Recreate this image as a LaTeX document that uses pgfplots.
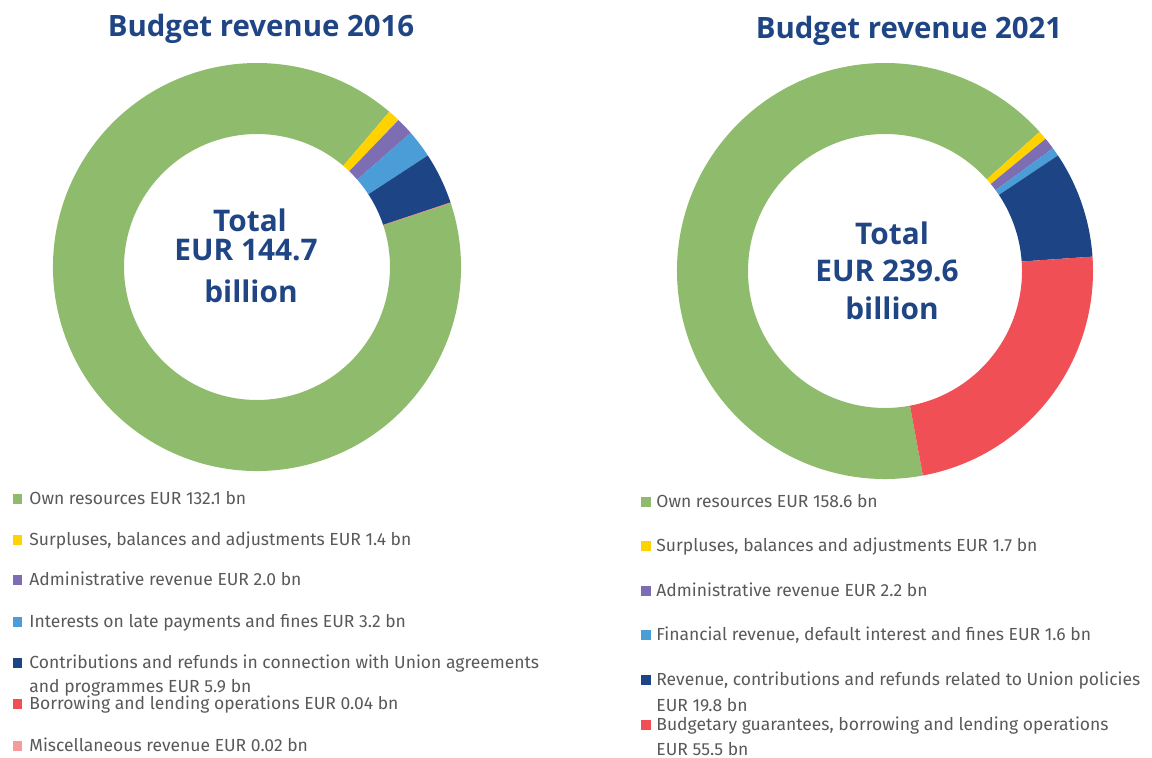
\documentclass[border=0pt]{standalone}
\usepackage{pgfplots}
\pgfplotsset{compat=1.18}
\usepackage{pgfplotstable}
\usepackage{fontspec}
\setmainfont{Fira Sans}
\newfontfamily\titlefont{Open Sans}
\definecolor{cgreen}{HTML}{8FBC6C}
\definecolor{cyellow}{HTML}{FFD200}
\definecolor{cpurple}{HTML}{7D6DB3}
\definecolor{clblue}{HTML}{4A9DD6}
\definecolor{cdblue}{HTML}{1D4585}
\definecolor{cred}{HTML}{F04F56}
\definecolor{cpink}{HTML}{F59A9D}
\definecolor{ctitle}{HTML}{1F4584}
\definecolor{ctext}{HTML}{595959}

% Budget revenue 2016 (EUR bn)
\pgfplotstableread{
value color
132.1 cgreen
1.4   cyellow
2.0   cpurple
3.2   clblue
5.9   cdblue
0.04  cred
0.02  cpink
}\dataA
% Budget revenue 2021 (EUR bn)
\pgfplotstableread{
value color
158.6 cgreen
1.7   cyellow
2.2   cpurple
1.6   clblue
19.8  cdblue
55.5  cred
}\dataB

% draws a donut from a table, clockwise from start angle #2
\newcommand\donut[4]{% #1 table, #2 start angle, #3 outer radius, #4 inner radius
  \pgfplotstablegetrowsof{#1}\pgfmathtruncatemacro\nrows{\pgfplotsretval-1}%
  \def\tot{0}%
  \pgfplotsforeachungrouped \i in {0,...,\nrows}{%
    \pgfplotstablegetelem{\i}{value}\of{#1}%
    \pgfmathsetmacro\tot{\tot+\pgfplotsretval}\global\let\tot\tot}%
  \def\cur{#2}%
  \pgfplotsforeachungrouped \i in {0,...,\nrows}{%
    \pgfplotstablegetelem{\i}{value}\of{#1}\let\val\pgfplotsretval
    \pgfplotstablegetelem{\i}{color}\of{#1}\let\col\pgfplotsretval
    \pgfmathsetmacro\nxt{\cur-(\val/\tot)*360}%
    \edef\temp{\noexpand\fill[\col] (axis cs:{#3*cos(\cur)},{#3*sin(\cur)}) arc[start angle=\cur,end angle=\nxt,radius=#3*0.5pt] -- (axis cs:{#4*cos(\nxt)},{#4*sin(\nxt)}) arc[start angle=\nxt,end angle=\cur,radius=#4*0.5pt] -- cycle;}%
    \temp
    \global\let\cur\nxt}%
}

\begin{document}
\begin{tikzpicture}[x=0.5pt,y=-0.5pt]
\path (0,0) rectangle (1152,758);
\coordinate (cA) at (257,267);
\coordinate (cB) at (885,271);

\begin{axis}[at={(cA)},anchor=center,hide axis,x=0.5pt,y=0.5pt,
  xmin=-220,xmax=220,ymin=-220,ymax=220,clip=false]
  \donut{\dataA}{18.3}{204}{133}
\end{axis}
\begin{axis}[at={(cB)},anchor=center,hide axis,x=0.5pt,y=0.5pt,
  xmin=-220,xmax=220,ymin=-220,ymax=220,clip=false]
  \donut{\dataB}{280.5}{208}{137}
\end{axis}

% titles
\node[anchor=base,text=ctitle,font=\titlefont\bfseries\fontsize{14.7pt}{16pt}\selectfont] at (261,37) {Budget revenue 2016};
\node[anchor=base,text=ctitle,font=\titlefont\bfseries\fontsize{14.7pt}{16pt}\selectfont] at (909,39) {Budget revenue 2021};

% centre text
\begin{scope}[every node/.style={anchor=base,text=ctitle,font=\titlefont\bfseries\fontsize{14.9pt}{16pt}\selectfont}]
\node at (250,232) {Total};
\node at (246,261) {EUR 144.7};
\node at (251,303) {billion};
\node at (892,245) {Total};
\node at (887,282) {EUR 239.6};
\node at (892,320) {billion};
\end{scope}

% legends
\begin{scope}[every node/.style={anchor=base west,text=ctext,font=\fontsize{8.75pt}{10pt}\selectfont,inner sep=0pt}]
\fill[cgreen]  (13,494) rectangle (22,504); \node at (29,505) {Own resources EUR 132.1 bn};
\fill[cyellow] (13,535) rectangle (22,545); \node at (29,546) {Surpluses, balances and adjustments EUR 1.4 bn};
\fill[cpurple] (13,575) rectangle (22,585); \node at (29,586) {Administrative revenue EUR 2.0 bn};
\fill[clblue]  (13,617) rectangle (22,627); \node at (29,628) {Interests on late payments and fines EUR 3.2 bn};
\fill[cdblue]  (13,658) rectangle (22,668); \node at (29,669) {Contributions and refunds in connection with Union agreements};
\node at (29,693) {and programmes EUR 5.9 bn};
\fill[cred]    (13,699) rectangle (22,709); \node at (29,710) {Borrowing and lending operations EUR 0.04 bn};
\fill[cpink]   (13,741) rectangle (22,751); \node at (29,752) {Miscellaneous revenue EUR 0.02 bn};

\fill[cgreen]  (641,497) rectangle (651,507); \node at (656,508) {Own resources EUR 158.6 bn};
\fill[cyellow] (641,541) rectangle (651,551); \node at (656,552) {Surpluses, balances and adjustments EUR 1.7 bn};
\fill[cpurple] (641,586) rectangle (651,596); \node at (656,597) {Administrative revenue EUR 2.2 bn};
\fill[clblue]  (641,630) rectangle (651,640); \node at (656,641) {Financial revenue, default interest and fines EUR 1.6 bn};
\fill[cdblue]  (641,675) rectangle (651,685); \node at (656,686) {Revenue, contributions and refunds related to Union policies};
\node at (656,712) {EUR 19.8 bn};
\fill[cred]    (641,720) rectangle (651,730); \node at (656,731) {Budgetary guarantees, borrowing and lending operations};
\node at (656,755) {EUR 55.5 bn};
\end{scope}
\end{tikzpicture}
\end{document}
